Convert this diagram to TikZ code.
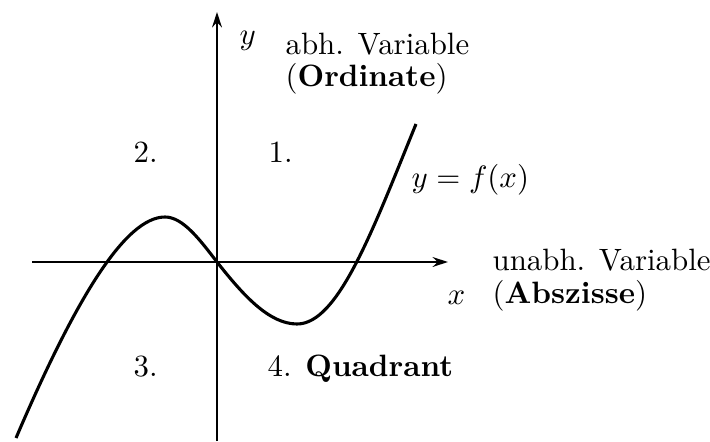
\documentclass[tikz,border=0pt]{standalone}
\usepackage{tikz}
\usetikzlibrary{arrows.meta, positioning}

\begin{document}
\begin{tikzpicture}[
    x=0.324pt, y=-0.324pt,
    axis/.style={line width=0.5pt, -{Stealth[length=5pt, width=3.2pt]}},
    graph/.style={line width=1pt},
    lbl/.style={inner sep=0pt, anchor=base west},
    twoline/.style={lbl, align=left}
]
    \useasboundingbox (0,0) rectangle (710,441);

    % axes
    \coordinate (O) at (217,262);
    \coordinate (xstart) at (32,262);
    \coordinate (xend) at (448,262);
    \coordinate (ystart) at (217,441);
    \coordinate (yend) at (217,12);
    \draw[axis] (xstart) -- (xend);
    \draw[axis] (ystart) -- (yend);

    % curve y = f(x)
    \draw[graph] (16,438) .. controls (75,300) and (125,217) .. (165,217)
        .. controls (183,217) and (200,240) .. (O)
        .. controls (243,295) and (269,324) .. (297,324)
        .. controls (338,324) and (372,232) .. (416,124);

    % labels
    \node[lbl] (ylabel) at (239,45) {$y$};
    \node[twoline] (ordinate) at (285,87) {abh. Variable\\[-1.6pt](\textbf{Ordinate})};
    \node[lbl] (xlabel) at (447,304) {$x$};
    \node[twoline] (abszisse) at (492,303) {unabh. Variable\\[-1.6pt](\textbf{Abszisse})};
    \node[lbl] (flabel) at (411,188) {$y=f(x)$};

    % quadrants
    \node[lbl] (q2) at (133,163) {2.};
    \node[lbl] (q1) at (268,163) {1.};
    \node[lbl] (q3) at (133,376) {3.};
    \node[lbl] (q4) at (267,376) {4. \textbf{Quadrant}};
\end{tikzpicture}
\end{document}
